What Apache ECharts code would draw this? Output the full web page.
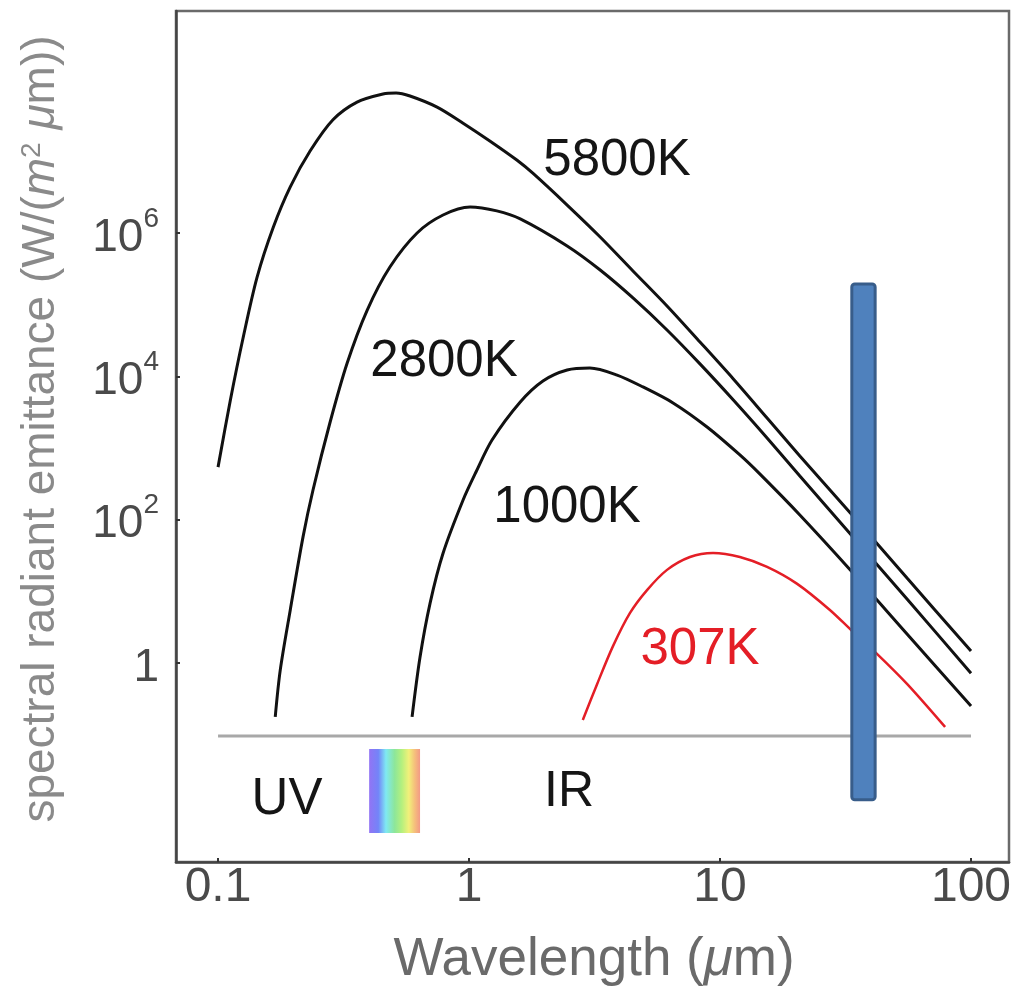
<!DOCTYPE html>
<html>
<head>
<meta charset="utf-8">
<title>Blackbody spectral radiant emittance</title>
<script src="https://cdn.jsdelivr.net/npm/echarts@6/dist/echarts.min.js"></script>
<style>
  html, body { margin: 0; padding: 0; background: #fff; }
  #main { width: 1017px; height: 990px; }
</style>
</head>
<body>
<div id="main"></div>
<script>
// wavelength (um) and spectral radiant emittance (W/(m^2 um))
var wl5800 = [0.1, 0.112, 0.126, 0.143, 0.166, 0.194, 0.233, 0.287, 0.358, 0.454,
              0.512, 0.582, 0.746, 0.947, 1.21, 1.55, 1.8, 2.46, 3.33, 4.5,
              6.15, 8.32, 11.3, 15.4, 20.8, 33.6, 55.6, 100];
var em5800 = [540, 4670, 3.5e4, 2.4e5, 1.2e6, 4.4e6, 1.4e7, 3.8e7, 6.7e7, 8.7e7,
              8.98e7, 8.15e7, 5.7e7, 3.4e7, 1.92e7, 1.04e7, 6.76e6, 2.45e6, 8.79e5, 2.95e5,
              9.58e4, 3.01e4, 9180, 2620, 773, 116, 15.3, 1.47];

var wl2800 = [0.169, 0.177, 0.194, 0.218, 0.239, 0.279, 0.327, 0.393, 0.484, 0.621,
              0.788, 1.01, 1.29, 1.6, 2.46, 3.33, 4.5, 6.15, 8.32, 11.3,
              15.4, 20.8, 33.6, 55.6, 100];
var em2800 = [0.177, 0.8, 5.5, 57, 259, 2230, 1.53e4, 8.4e4, 3.35e5, 1.0e6,
              1.78e6, 2.3e6, 2.03e6, 1.57e6, 6.58e5, 3.04e5, 1.24e5, 4.43e4, 1.49e4, 4670,
              1380, 407, 59, 7.8, 0.72];

var wl1000 = [0.593, 0.638, 0.7, 0.788, 0.947, 1.066, 1.235, 1.6, 1.97, 2.46,
              3.03, 3.89, 4.93, 6.5, 8.88, 12.0, 14.4, 20.8, 33.6, 55.6, 100];
var em1000 = [0.177, 1.21, 6.9, 34, 188, 462, 1292, 4385, 8610, 1.225e4,
              1.306e4, 1.04e4, 7100, 4250, 1960, 798, 434, 116, 18.6, 2.54, 0.251];

var wl307 = [2.84, 3.24, 3.75, 4.38, 5.12, 6.15, 7.59, 9.38, 12.0, 15.4,
             20.3, 27.4, 33.6, 42.2, 55.6, 78.8];
var em307 = [0.16, 0.51, 1.73, 4.99, 10.4, 19.9, 30.1, 34.3, 30.1, 21.9,
             12.7, 5.49, 2.79, 1.34, 0.51, 0.128];

// grey base line under the curves
var baseWl = [0.1, 100];
var baseEm = [0.0958, 0.0958];

var xTicks = [0.1, 1, 10, 100];
var yTicks = [1, 100, 1e4, 1e6];

// visible band and the blue marker bar (wavelength / emittance bounds)
var visibleWl = [0.40, 0.638];
var visibleEm = [0.063, 0.00425];
var barWl = [33.5, 41.5];
var barEm = [1.94e5, 0.0123];

var FONT = '"Liberation Sans", Arial, Helvetica, sans-serif';

function pairs(xs, ys) {
    return xs.map(function (x, i) { return [x, ys[i]]; });
}

function curve(name, xs, ys, color, width) {
    return {
        name: name,
        type: 'line',
        data: pairs(xs, ys),
        showSymbol: false,
        smooth: 0.3,
        z: 3,
        lineStyle: { color: color, width: width }
    };
}

var chart = echarts.init(document.getElementById('main'));

var option = {
    animation: false,
    backgroundColor: '#fff',
    grid: {
        left: 176, right: 8, top: 11, bottom: 128,
        show: true, borderColor: '#6a6a6a', borderWidth: 2.5
    },
    xAxis: {
        type: 'log',
        logBase: 10,
        min: 0.068,
        max: 141.7,
        axisLine: { show: true, onZero: false, lineStyle: { color: '#444', width: 2.5 } },
        axisTick: {
            show: true, inside: true, length: 4, customValues: xTicks,
            lineStyle: { color: '#333', width: 2 }
        },
        axisLabel: {
            customValues: xTicks,
            margin: 2,
            color: '#4a4a4a',
            fontSize: 48,
            fontFamily: FONT,
            formatter: function (v) {
                var e = Math.round(Math.log10(v));
                return e < 0 ? '0.1' : String(Math.pow(10, e));
            }
        },
        splitLine: { show: false }
    },
    yAxis: {
        type: 'log',
        logBase: 10,
        min: 1.67e-3,
        max: 1.25e9,
        axisLine: { show: true, onZero: false, lineStyle: { color: '#444', width: 2.5 } },
        axisTick: {
            show: true, inside: true, length: 4, customValues: yTicks,
            lineStyle: { color: '#333', width: 2 }
        },
        axisLabel: {
            customValues: yTicks,
            margin: 17,
            color: '#4a4a4a',
            fontFamily: FONT,
            formatter: function (v) {
                var e = Math.round(Math.log10(v));
                return e === 0 ? '{n|1}' : '{n|10}{s|' + e + '}';
            },
            rich: {
                n: { fontSize: 46, fontFamily: FONT, color: '#4a4a4a', padding: [10, 0, 0, 0] },
                s: { fontSize: 28, fontFamily: FONT, color: '#4a4a4a', verticalAlign: 'top' }
            }
        },
        splitLine: { show: false }
    },
    series: [
        curve('5800K', wl5800, em5800, '#111', 3),
        curve('2800K', wl2800, em2800, '#111', 3),
        curve('1000K', wl1000, em1000, '#111', 3),
        curve('307K', wl307, em307, '#e41e26', 2.5),
        {
            name: 'base',
            type: 'line',
            data: pairs(baseWl, baseEm),
            showSymbol: false,
            z: 2,
            lineStyle: { color: '#a8a8a8', width: 3 }
        }
    ]
};

chart.setOption(option);

function px(l, e) {
    return chart.convertToPixel({ xAxisIndex: 0, yAxisIndex: 0 }, [l, e]);
}

function label(text, x, y, color, size) {
    return {
        type: 'text', x: x, y: y, z: 60,
        style: {
            text: text, fill: color, font: 'normal ' + size + 'px ' + FONT,
            align: 'center', verticalAlign: 'middle',
            textAlign: 'center', textVerticalAlign: 'middle'
        }
    };
}

var v0 = px(visibleWl[0], visibleEm[0]);
var v1 = px(visibleWl[1], visibleEm[1]);
var b0 = px(barWl[0], barEm[0]);
var b1 = px(barWl[1], barEm[1]);

chart.setOption({
    graphic: [
        {
            type: 'rect', z: 5,
            shape: { x: v0[0], y: v0[1], width: v1[0] - v0[0], height: v1[1] - v0[1] },
            style: {
                fill: new echarts.graphic.LinearGradient(0, 0, 1, 0, [
                    { offset: 0, color: '#9274f4' },
                    { offset: 0.18, color: '#7384f8' },
                    { offset: 0.33, color: '#7fe9f3' },
                    { offset: 0.5, color: '#8de69a' },
                    { offset: 0.64, color: '#b4f07e' },
                    { offset: 0.78, color: '#f1f07a' },
                    { offset: 0.9, color: '#f5bd7c' },
                    { offset: 1, color: '#f29a86' }
                ])
            }
        },
        {
            type: 'rect', z: 50,
            shape: { x: b0[0], y: b0[1], width: b1[0] - b0[0], height: b1[1] - b0[1], r: 3 },
            style: { fill: '#4f81bd', stroke: '#385d8a', lineWidth: 3 }
        },
        label('5800K', 617, 161, '#151515', 51),
        label('2800K', 444, 362, '#151515', 51),
        label('1000K', 567, 508, '#151515', 51),
        label('307K', 700, 650, '#e41e26', 51),
        label('UV', 287, 800, '#151515', 51),
        label('IR', 569, 792, '#151515', 50),
        {
            type: 'text', x: 594, y: 960, z: 60,
            style: {
                text: 'Wavelength ({i|μ}m)',
                fill: '#6a6a6a', font: 'normal 53px ' + FONT,
                align: 'center', verticalAlign: 'middle',
                textAlign: 'center', textVerticalAlign: 'middle',
                rich: { i: { fontStyle: 'italic', fontSize: 53, fontFamily: FONT, fill: '#6a6a6a' } }
            }
        },
        {
            type: 'text', x: 41, y: 429, z: 60, rotation: Math.PI / 2,
            style: {
                text: 'spectral radiant emittance (W/({i|m}{s|2} {i|μ}m))',
                fill: '#8a8a8a', font: 'normal 46px ' + FONT,
                align: 'center', verticalAlign: 'middle',
                textAlign: 'center', textVerticalAlign: 'middle',
                rich: {
                    i: { fontStyle: 'italic', fontSize: 46, fontFamily: FONT, fill: '#8a8a8a' },
                    s: { fontSize: 28, fontFamily: FONT, fill: '#8a8a8a', verticalAlign: 'top' }
                }
            }
        }
    ]
});
</script>
</body>
</html>
